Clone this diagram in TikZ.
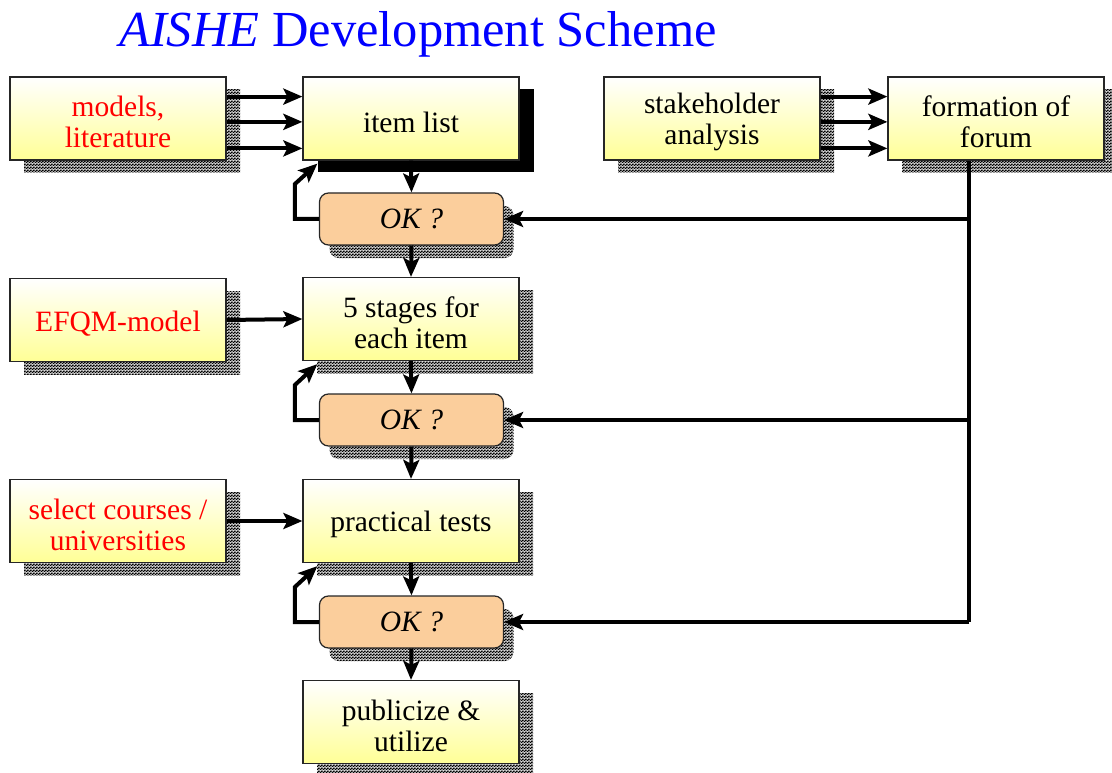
\documentclass[tikz,border=0pt]{standalone}
\usepackage{fontspec}
\setmainfont{Liberation Serif}
\usetikzlibrary{arrows.meta,shadows,patterns.meta,calc}

\definecolor{boxyellow}{RGB}{255,255,150}
\definecolor{okfill}{RGB}{251,206,156}
\definecolor{titleblue}{RGB}{0,0,255}

% dithered fill used for the drop shadows
\tikzdeclarepattern{
  name=dither, type=colored,
  bounding box={(0pt,0pt) and (2.6pt,2.6pt)},
  tile size={(2.6pt,2.6pt)},
  code={
    \fill[black!35] (0pt,0pt) rectangle (2.6pt,2.6pt);
    \fill[black] (0pt,0pt) rectangle (1.3pt,1.3pt);
    \fill[black] (1.3pt,1.3pt) rectangle (2.6pt,2.6pt);
  }
}

\tikzset{
  % a taller text box sets the text a little below the box centre
  boxtext/.style={align=center, inner sep=0pt, font=\fontsize{29.5}{31}\selectfont,
    text height=28pt},
  twoline/.style={text height=59pt},
  box/.style={draw=black!85, line width=1.2pt, top color=white, bottom color=boxyellow,
    minimum width=216pt, minimum height=83pt, boxtext,
    general shadow={shadow xshift=14pt, shadow yshift=-13pt, pattern=dither}},
  srcbox/.style={box, text=red},
  heavybox/.style={draw=black!85, line width=1.2pt, top color=white, bottom color=boxyellow,
    minimum width=216pt, minimum height=83pt, boxtext,
    general shadow={shadow xshift=15pt, shadow yshift=-12pt, fill=black}},
  okbox/.style={draw=black!85, line width=1.2pt, fill=okfill, rounded corners=9pt,
    minimum width=184pt, minimum height=52pt, inner sep=0pt,
    font=\fontsize{29.5}{31}\selectfont\itshape,
    general shadow={shadow xshift=10pt, shadow yshift=-13pt, pattern=dither}},
  arr/.style={line width=4pt, -{Stealth[length=19pt,width=16pt,inset=4pt]}},
  bus/.style={line width=4pt},
}

\begin{document}
\begin{tikzpicture}[x=1pt,y=-1pt]
\useasboundingbox (0,0) rectangle (1112,773);

\node[anchor=base, font=\fontsize{50.5}{55}\selectfont, text=titleblue] (title) at (418,47)
  {\textit{AISHE} Development Scheme};

% boxes
\node[srcbox, twoline] (models) at (118,118.5) {models,\\literature};
\node[heavybox] (item) at (411,118.5) {item list};
\node[box, twoline] (stake) at (712,118.5) {stakeholder\\analysis};
\node[box, twoline] (forum) at (996,118.5) {formation of\\forum};

\node[okbox] (ok1) at (411.5,219) {OK ?};

\node[srcbox] (efqm) at (118,320) {EFQM-model};
\node[box, twoline] (stages) at (411,319) {5 stages for\\each item};

\node[okbox] (ok2) at (411.5,420) {OK ?};

\node[srcbox, twoline] (select) at (118,521) {select courses /\\universities};
\node[box] (practical) at (411,521) {practical tests};

\node[okbox] (ok3) at (411.5,622) {OK ?};

\node[box, twoline] (publ) at (411,722) {publicize \&\\utilize};

% triple inputs
\foreach \f in {0.24,0.54,0.855}{
  \draw[arr] ($(models.north east)!\f!(models.south east)$) -- ($(item.north west)!\f!(item.south west)$);
  \draw[arr] ($(stake.north east)!\f!(stake.south east)$) -- ($(forum.north west)!\f!(forum.south west)$);
}

% single inputs
\draw[arr] (efqm.east) -- (stages.west);
\draw[arr] (select.east) -- (practical.west);

% main flow
\draw[arr] (item.south) -- (ok1.north);
\draw[arr] (ok1.south) -- (stages.north);
\draw[arr] (stages.south) -- (ok2.north);
\draw[arr] (ok2.south) -- (practical.north);
\draw[arr] (practical.south) -- (ok3.north);
\draw[arr] (ok3.south) -- (publ.north);

% rework loops
\draw[arr] (ok1.west) -- ++(-24,0) -- ++(0,-35) -- ($(item.south west)+(15,3)$);
\draw[arr] (ok2.west) -- ++(-24,0) -- ++(0,-35) -- ($(stages.south west)+(15,3)$);
\draw[arr] (ok3.west) -- ++(-24,0) -- ++(0,-35) -- ($(practical.south west)+(15,3)$);

% forum feedback bus
\coordinate (bustop) at ($(forum.south west)+(82,0)$);
\draw[bus] (bustop) -- (bustop |- ok3.east);
\draw[arr] (bustop |- ok1.east) -- (ok1.east);
\draw[arr] (bustop |- ok2.east) -- (ok2.east);
\draw[arr] (bustop |- ok3.east) -- (ok3.east);
\end{tikzpicture}
\end{document}
